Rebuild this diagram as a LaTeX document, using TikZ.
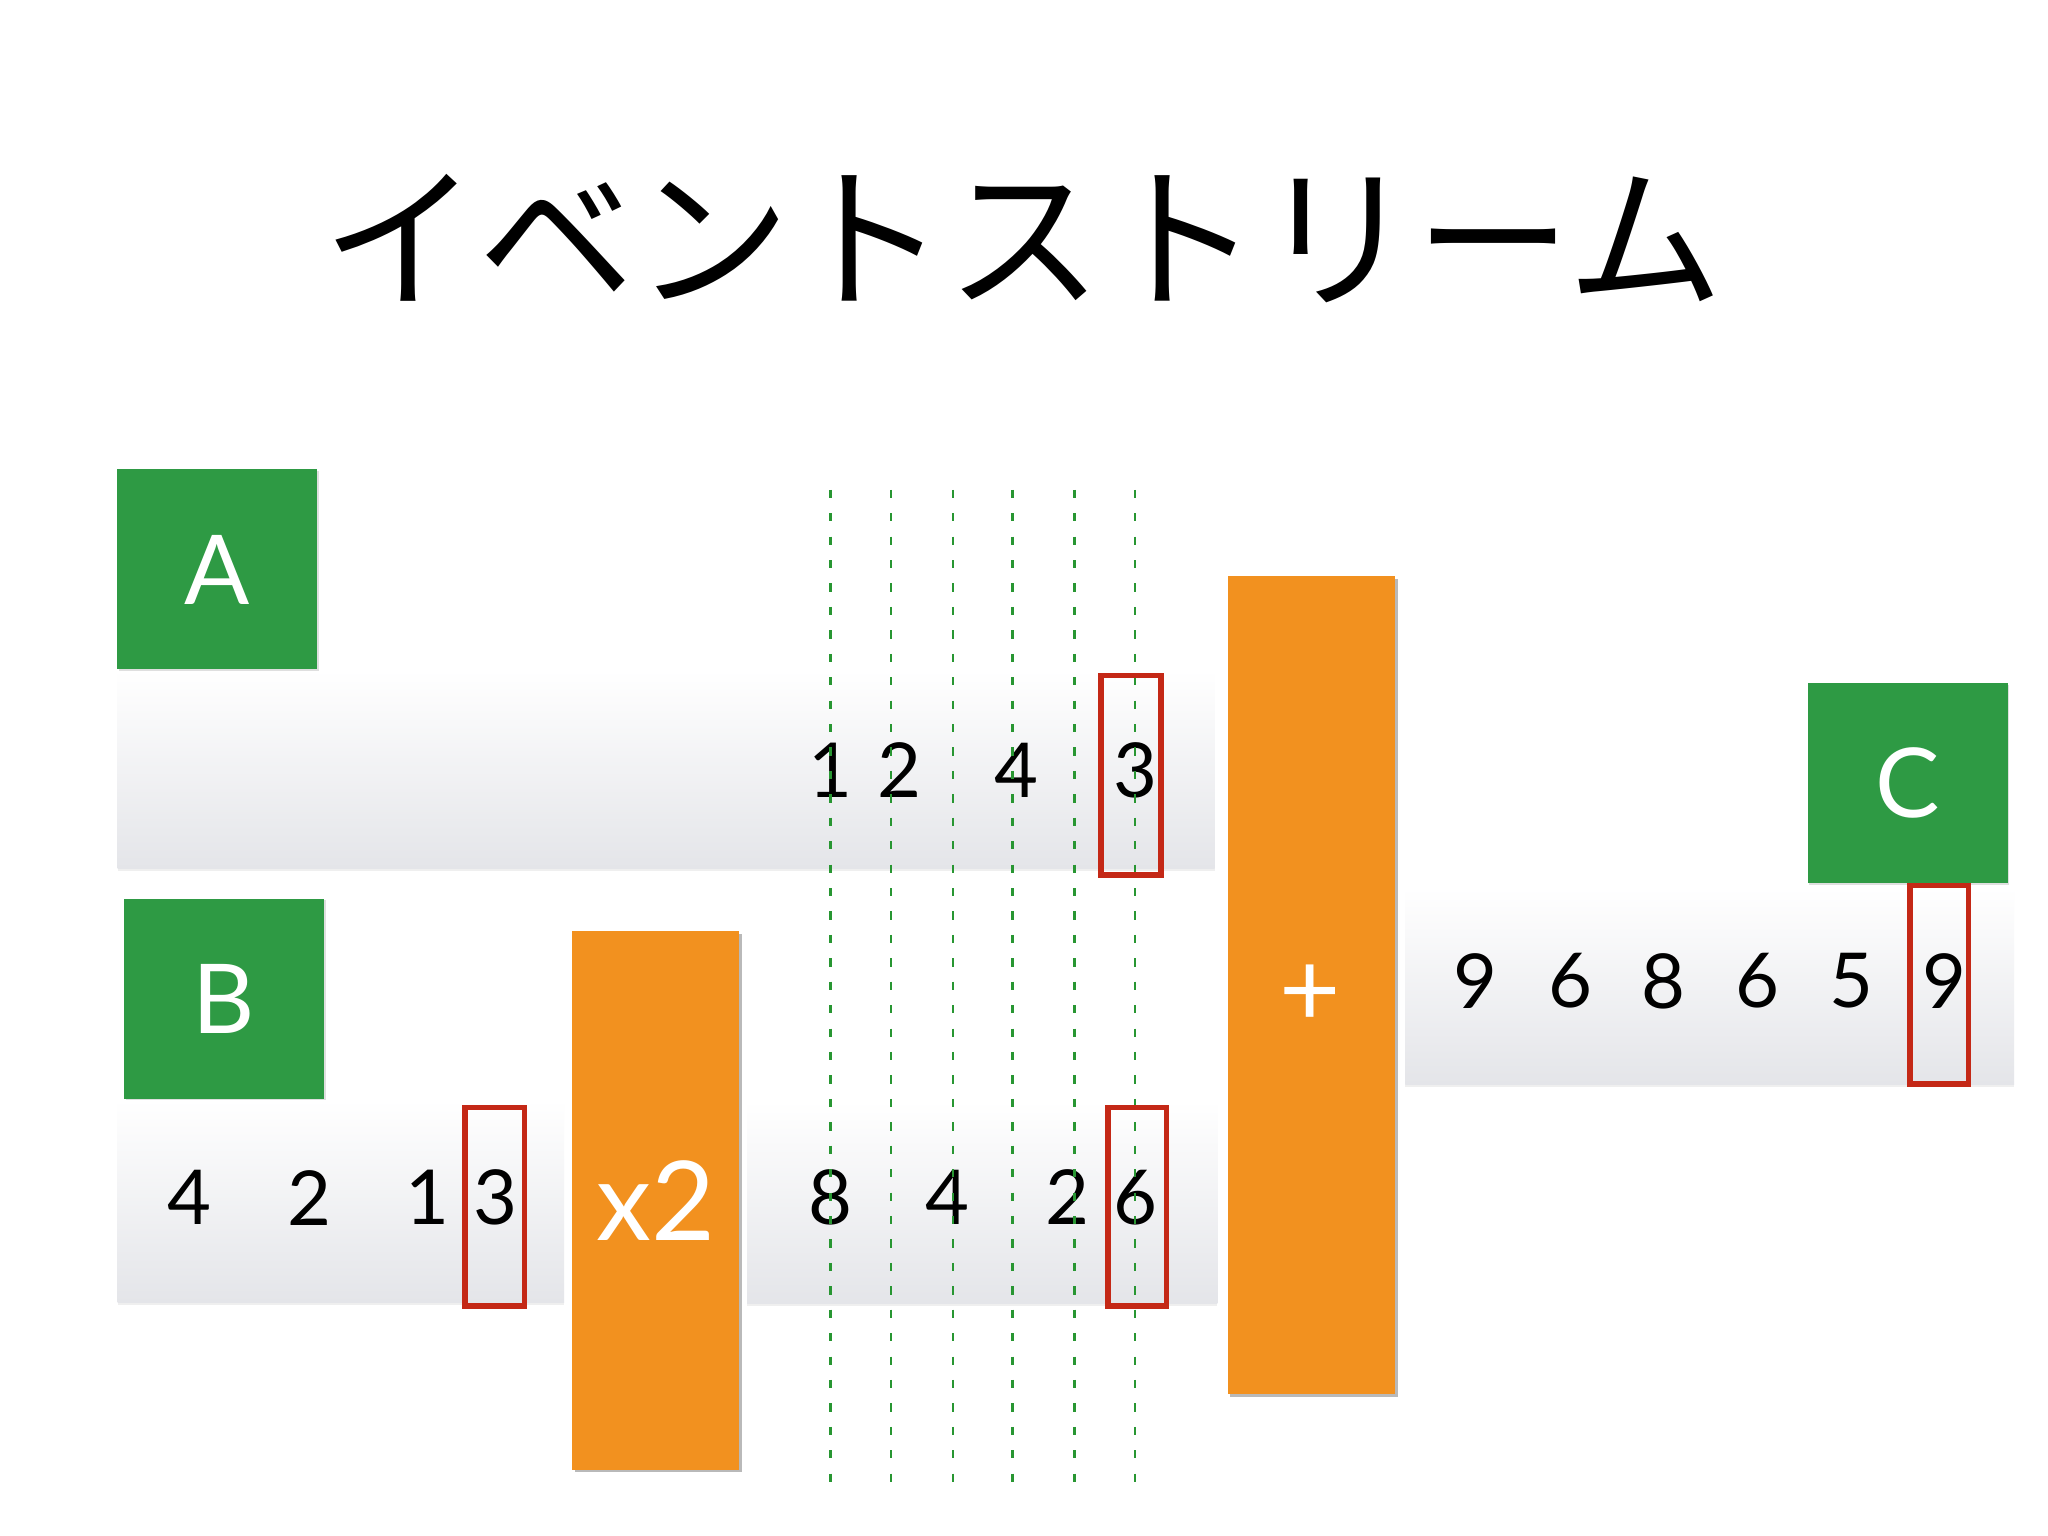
\documentclass[tikz,border=0pt]{standalone}
\usepackage{fontspec}
\setmainfont{Lato}
\newfontfamily\jpfont{Noto Sans CJK JP}
\usetikzlibrary{shadows}
\definecolor{taggreen}{RGB}{46,154,68}
\definecolor{oporange}{RGB}{242,145,31}
\definecolor{hitred}{RGB}{196,40,22}
\definecolor{tickgreen}{RGB}{40,150,50}
\definecolor{lanegray}{RGB}{228,229,233}

\begin{document}
\begin{tikzpicture}[x=0.01cm,y=-0.01cm]
	\tikzstyle{tag}=[fill=taggreen,text=white,inner sep=0pt,minimum width=1.53cm,minimum height=1.53cm,font=\fontsize{21}{24}\selectfont,drop shadow={shadow xshift=.4pt,shadow yshift=-.4pt,opacity=.25}];
	\tikzstyle{op}=[fill=oporange,text=white,inner sep=0pt,minimum width=1.28cm,drop shadow={shadow xshift=.6pt,shadow yshift=-.6pt,opacity=.55}];
	\tikzstyle{lane}=[top color=white,bottom color=lanegray,drop shadow={shadow xshift=0pt,shadow yshift=-.6pt,opacity=.12}];
	\tikzstyle{num}=[inner sep=0pt,font=\fontsize{16.5}{20}\selectfont];
	\tikzstyle{tick}=[tickgreen,line width=.55pt,dash pattern=on 1.8pt off 3.3pt];
	\tikzstyle{hit}=[draw=hitred,line width=1.2pt];

	\useasboundingbox[fill=white] (0,0) rectangle (1568,1176);

	\node[font=\jpfont\fontsize{34}{40}\selectfont] (title) at (783,183) {イベントストリーム};

	% streams
	\path[lane] (90,513)   rectangle (930,665);
	\path[lane] (90,842)   rectangle (432,997);
	\path[lane] (572,843)  rectangle (932,998);
	\path[lane] (1076,680) rectangle (1542,830);

	\node[tag] (A) at (166.5,436)   {A};
	\node[tag] (B) at (171.5,764.5) {B};
	\node[tag] (C) at (1460.5,599.5) {C};

	\node[op,minimum height=4.12cm,font=\fontsize{24}{28}\selectfont] (dbl) at (502,919) {x2};
	\node[op,minimum height=6.26cm] (sum) at (1004,754) {};
	\node[text=white,inner sep=0pt,font=\fontsize{23}{28}\selectfont] (plus) at (1003,762.5) {+};

	\foreach \v/\x [count=\i] in {1/636,2/689,4/778.5,3/869}
		\node[num] (a\i) at (\x,589.5) {\v};
	\foreach \v/\x [count=\i] in {4/145,2/236.6,1/327,3/379}
		\node[num] (b\i) at (\x,917) {\v};
	\foreach \v/\x [count=\i] in {8/635.6,4/725.7,2/817,6/869.4}
		\node[num] (d\i) at (\x,916.6) {\v};
	\foreach \v/\x [count=\i] in {9/1130,6/1202.5,8/1273.5,6/1345.4,5/1417.4,9/1489}
		\node[num] (c\i) at (\x,751) {\v};

	% time slots
	\foreach \x in {635.8,682,729.6,775.3,822.8,869}
		\draw[tick] (\x,375) -- (\x,1137);

	\draw[hit] (843,517)    rectangle (889,670);
	\draw[hit] (356,848)    rectangle (401.5,1000);
	\draw[hit] (848.5,848)  rectangle (893,1000);
	\draw[hit] (1462.5,678) rectangle (1507,830);
\end{tikzpicture}
\end{document}
